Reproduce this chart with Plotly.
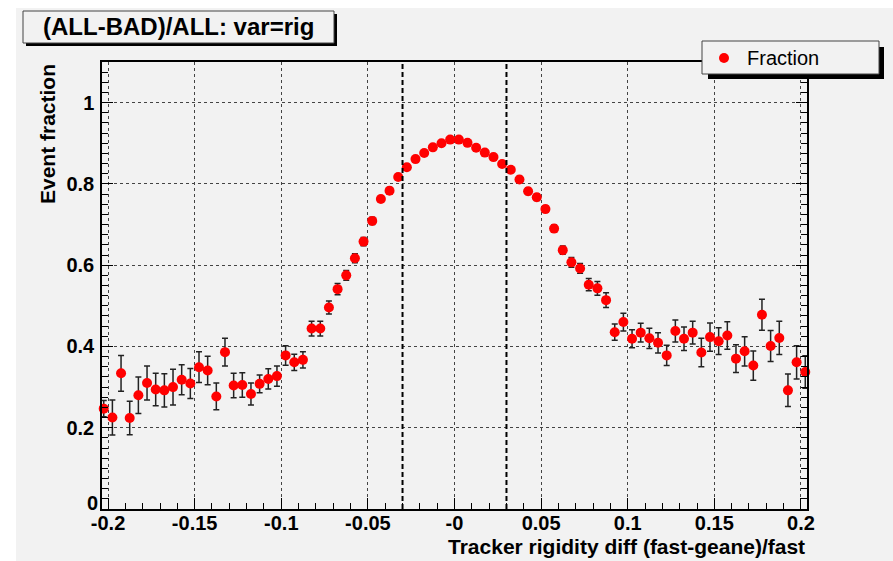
import plotly.graph_objects as go

# ---- data ----
bin_centers = [
    -0.2025, -0.1975, -0.1925, -0.1875, -0.1825, -0.1775, -0.1725, -0.1675, -0.1625, -0.1575,
    -0.1525, -0.1475, -0.1425, -0.1375, -0.1325, -0.1275, -0.1225, -0.1175, -0.1125, -0.1075,
    -0.1025, -0.0975, -0.0925, -0.0875, -0.0825, -0.0775, -0.0725, -0.0675, -0.0625, -0.0575,
    -0.0525, -0.0475, -0.0425, -0.0375, -0.0325, -0.0275, -0.0225, -0.0175, -0.0125, -0.0075,
    -0.0025, 0.0025, 0.0075, 0.0125, 0.0175, 0.0225, 0.0275, 0.0325, 0.0375, 0.0425,
    0.0475, 0.0525, 0.0575, 0.0625, 0.0675, 0.0725, 0.0775, 0.0825, 0.0875, 0.0925,
    0.0975, 0.1025, 0.1075, 0.1125, 0.1175, 0.1225, 0.1275, 0.1325, 0.1375, 0.1425,
    0.1475, 0.1525, 0.1575, 0.1625, 0.1675, 0.1725, 0.1775, 0.1825, 0.1875, 0.1925,
    0.1975, 0.2025,
]
fraction = [
    0.247, 0.225, 0.334, 0.224, 0.280, 0.310, 0.294, 0.292, 0.300, 0.318,
    0.309, 0.349, 0.341, 0.277, 0.386, 0.304, 0.305, 0.283, 0.308, 0.320,
    0.327, 0.378, 0.361, 0.367, 0.444, 0.444, 0.496, 0.541, 0.575, 0.617,
    0.658, 0.709, 0.763, 0.783, 0.817, 0.841, 0.861, 0.876, 0.890, 0.900,
    0.909, 0.909, 0.901, 0.889, 0.877, 0.866, 0.849, 0.835, 0.811, 0.782,
    0.767, 0.738, 0.690, 0.637, 0.607, 0.592, 0.552, 0.543, 0.514, 0.435,
    0.460, 0.419, 0.434, 0.420, 0.409, 0.378, 0.438, 0.419, 0.434, 0.385,
    0.423, 0.413, 0.427, 0.370, 0.388, 0.353, 0.478, 0.401, 0.421, 0.292,
    0.361, 0.337,
]
fraction_err = [
    0.020, 0.043, 0.044, 0.041, 0.045, 0.042, 0.040, 0.041, 0.044, 0.037,
    0.037, 0.038, 0.035, 0.033, 0.034, 0.030, 0.030, 0.027, 0.022, 0.025,
    0.025, 0.024, 0.020, 0.020, 0.018, 0.018, 0.016, 0.014, 0.012, 0.011,
    0.010, 0.009, 0.008, 0.008, 0.007, 0.007, 0.006, 0.006, 0.006, 0.006,
    0.006, 0.006, 0.006, 0.006, 0.006, 0.006, 0.007, 0.007, 0.007, 0.008,
    0.008, 0.008, 0.009, 0.010, 0.012, 0.012, 0.015, 0.017, 0.018, 0.020,
    0.022, 0.022, 0.023, 0.025, 0.025, 0.025, 0.027, 0.029, 0.028, 0.035,
    0.035, 0.033, 0.034, 0.034, 0.036, 0.036, 0.038, 0.038, 0.041, 0.040,
    0.041, 0.040,
]
cut_lines = [-0.03, 0.03]
x_tickvals = [-0.2, -0.15, -0.1, -0.05, 0.0, 0.05, 0.1, 0.15, 0.2]
x_ticktext = ["-0.2", "-0.15", "-0.1", "-0.05", "-0", "0.05", "0.1", "0.15", "0.2"]
y_tickvals = [0, 0.2, 0.4, 0.6, 0.8, 1.0]
y_ticktext = ["", "0.2", "0.4", "0.6", "0.8", "1"]
y_zero_label = "0"
title_text = "(ALL-BAD)/ALL: var=rig"
legend_text = "Fraction"
x_title = "Tracker rigidity diff (fast-geane)/fast"
y_title = "Event fraction"

# ---- layout geometry (pixels) ----
W, H = 893, 561
L, R, T, B = 102, 807, 62, 509
PW, PH = R - L, B - T


def px(x):
    return (x - L) / PW


def py(y):
    return (B - y) / PH


BG = "#f2f2f2"
FONT = "Liberation Sans, Arial, Helvetica, sans-serif"

fig = go.Figure()
fig.add_trace(go.Scatter(
    x=bin_centers, y=fraction, mode="markers", name=legend_text,
    marker=dict(color="#ff0000", size=10, line=dict(width=0)),
    error_y=dict(type="data", array=fraction_err, color="#222222", thickness=1.5, width=3),
    cliponaxis=False, showlegend=False,
))

shapes = []
# gray canvas pad
shapes.append(dict(type="rect", xref="paper", yref="paper", x0=px(16), x1=px(W + 5),
                   y0=py(H + 5), y1=py(8), fillcolor=BG, line=dict(width=0), layer="below"))
# cut lines
for c in cut_lines:
    shapes.append(dict(type="line", xref="x", yref="paper", x0=c, x1=c, y0=0, y1=1,
                       line=dict(color="black", width=2, dash="5px,3px"), layer="above"))
# title box + shadow
shapes.append(dict(type="rect", xref="paper", yref="paper", x0=px(26), x1=px(337),
                   y0=py(46), y1=py(14), fillcolor="black", line=dict(width=0), layer="above"))
shapes.append(dict(type="rect", xref="paper", yref="paper", x0=px(23), x1=px(334),
                   y0=py(43), y1=py(11), fillcolor=BG, line=dict(color="#444444", width=1),
                   layer="above"))
# legend box + shadow
shapes.append(dict(type="rect", xref="paper", yref="paper", x0=px(708), x1=px(884),
                   y0=py(79), y1=py(47), fillcolor="black", line=dict(width=0), layer="above"))
shapes.append(dict(type="rect", xref="paper", yref="paper", x0=px(702), x1=px(879),
                   y0=py(74), y1=py(41), fillcolor=BG, line=dict(color="#444444", width=1),
                   layer="above"))
# legend marker
shapes.append(dict(type="circle", xref="paper", yref="paper", xsizemode="pixel",
                   ysizemode="pixel", xanchor=px(724), yanchor=py(58), x0=-5, x1=5, y0=-5, y1=5,
                   fillcolor="#ff0000", line=dict(width=0), layer="above"))

annotations = [
    dict(text=title_text, xref="paper", yref="paper", x=px(178), y=py(27),
         xanchor="center", yanchor="middle", showarrow=False,
         font=dict(family=FONT, size=24, color="black", weight="bold")),
    dict(text=legend_text, xref="paper", yref="paper", x=px(745), y=py(58),
         xanchor="left", yanchor="middle", showarrow=False,
         font=dict(family=FONT, size=20, color="black")),
    dict(text=x_title, xref="paper", yref="paper", x=1.0, y=py(546),
         xanchor="right", yanchor="middle", showarrow=False,
         font=dict(family=FONT, size=21, color="black", weight="bold")),
    dict(text=y_title, xref="paper", yref="paper", x=px(47), y=1.0, textangle=-90,
         xanchor="center", yanchor="top", showarrow=False,
         font=dict(family=FONT, size=21, color="black", weight="bold")),
    dict(text=y_zero_label, xref="paper", yref="paper", x=px(100), y=py(503),
         xanchor="right", yanchor="middle", showarrow=False,
         font=dict(family=FONT, size=20, color="black", weight="bold")),
]

fig.update_layout(
    width=W, height=H,
    margin=dict(l=L, r=W - R, t=T, b=H - B, pad=0),
    paper_bgcolor="white", plot_bgcolor=BG,
    shapes=shapes, annotations=annotations,
    font=dict(family=FONT, color="black"),
)
fig.update_xaxes(
    range=[-0.2035, 0.2035], tickvals=x_tickvals, ticktext=x_ticktext,
    ticks="inside", ticklen=11, tickwidth=1, tickcolor="black",
    minor=dict(dtick=0.01, tick0=0, ticks="inside", ticklen=6, tickcolor="black", showgrid=False),
    showline=True, linecolor="black", linewidth=1.5, mirror=True,
    showgrid=True, gridcolor="#444444", griddash="dot", gridwidth=1,
    zeroline=False, tickfont=dict(family=FONT, size=20, weight="bold"),
    ticklabelstandoff=-5,
)
fig.update_yaxes(
    range=[0, 1.1], tickvals=y_tickvals, ticktext=y_ticktext,
    ticks="inside", ticklen=11, tickwidth=1, tickcolor="black",
    minor=dict(dtick=0.025, tick0=0, ticks="inside", ticklen=6, tickcolor="black", showgrid=False),
    showline=True, linecolor="black", linewidth=1.5, mirror="ticks",
    showgrid=True, gridcolor="#444444", griddash="dot", gridwidth=1,
    zeroline=False, tickfont=dict(family=FONT, size=20, weight="bold"),
    ticklabelstandoff=2,
)

fig.write_html("out.html")
